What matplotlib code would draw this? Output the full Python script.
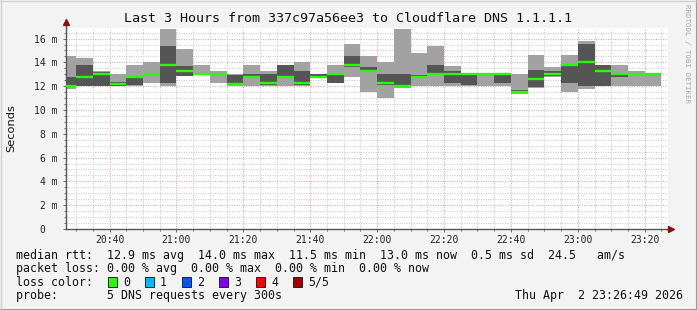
import numpy as np
import matplotlib
matplotlib.use("Agg")
import matplotlib.pyplot as plt
from matplotlib.lines import Line2D
from matplotlib.patches import Rectangle
from matplotlib.ticker import MultipleLocator, FuncFormatter

# 5-minute steps, minutes after 20:00 (start of each step)
step_start = [25 + 5 * k for k in range(36)]

# the 5 pings of each step, sorted (ms)
ping_min = [11.80, 12.00, 12.00, 12.00, 12.02, 12.30, 12.04, 12.86, 12.98, 12.30,
            12.00, 12.04, 12.02, 12.02, 12.02, 12.65, 12.28, 12.80, 11.55, 11.04,
            11.88, 12.04, 12.04, 12.04, 12.04, 12.04, 12.04, 11.34, 11.88, 12.80,
            11.54, 11.76, 12.02, 12.04, 12.04, 12.04]
ping_2nd = [11.95, 12.04, 12.05, 12.05, 12.06, 12.95, 12.30, 12.88, 13.00, 12.98,
            12.06, 12.78, 12.06, 12.78, 12.06, 12.70, 12.30, 13.58, 13.20, 12.06,
            11.92, 12.78, 12.98, 12.30, 12.06, 13.00, 12.30, 11.40, 11.90, 12.85,
            12.30, 12.04, 12.05, 12.80, 13.00, 13.00]
median = [12.00, 12.80, 13.05, 12.22, 12.80, 13.02, 13.80, 13.30, 13.02, 13.02,
          12.22, 12.80, 12.27, 12.80, 12.27, 12.80, 13.02, 13.78, 13.30, 12.30,
          12.00, 12.80, 13.02, 13.05, 13.02, 13.02, 13.02, 11.52, 12.60, 13.02,
          13.78, 14.06, 13.30, 13.05, 13.02, 13.02]
ping_4th = [12.75, 13.78, 13.20, 12.35, 12.82, 13.10, 15.38, 13.72, 13.05, 13.05,
            12.95, 13.05, 13.02, 13.78, 13.28, 13.00, 13.05, 14.56, 13.60, 13.02,
            13.02, 12.95, 13.78, 13.28, 13.06, 13.04, 13.04, 11.65, 13.36, 13.30,
            13.85, 15.55, 13.78, 13.10, 13.05, 13.04]
ping_max = [14.55, 14.34, 13.30, 13.00, 13.78, 14.06, 16.80, 15.13, 13.78, 13.30,
            13.00, 13.78, 13.30, 13.80, 14.06, 13.05, 13.78, 15.55, 14.55, 14.06,
            16.80, 14.76, 15.38, 13.70, 13.10, 13.06, 13.06, 13.02, 14.62, 13.58,
            14.62, 15.80, 13.80, 13.78, 13.28, 13.06]

tick_minutes = [40, 60, 80, 100, 120, 140, 160, 180, 200]

loss_labels = ["0", "1", "2", "3", "4", "5/5"]
loss_colors = ["#26ff00", "#00b8ff", "#0059ff", "#7e00ff", "#ff0000", "#a00000"]

W, H = 697, 310
fig = plt.figure(figsize=(W / 100, H / 100), dpi=100, facecolor="#f3f3f3")

x0, x1, ytop, ybot = 65.5, 667.5, 28, 229
ax = fig.add_axes([x0 / W, (H - ybot) / H, (x1 - x0) / W, (ybot - ytop) / H])
ax.set_facecolor("white")

t0 = 26 + 49 / 60
ax.set_xlim(t0, t0 + 180)
ax.set_ylim(0, 16.89)

mono = "DejaVu Sans Mono"

# grid
ax.xaxis.set_major_locator(plt.FixedLocator(tick_minutes))
ax.xaxis.set_minor_locator(MultipleLocator(5))
ax.yaxis.set_major_locator(MultipleLocator(2))
ax.yaxis.set_minor_locator(MultipleLocator(0.5))
ax.grid(which="minor", color="#cccccc", lw=0.75, ls=(0, (1, 1.3)), zorder=0)
ax.grid(which="major", color="#e8a8a8", lw=0.75, ls=(0, (1, 1.3)), zorder=0)
ax.set_axisbelow(True)

ax.xaxis.set_major_formatter(FuncFormatter(lambda v, p: "%02d:%02d" % (20 + int(v) // 60, int(v) % 60)))
ax.yaxis.set_major_formatter(FuncFormatter(lambda v, p: "%d m" % v if v > 0 else "0  "))
ax.tick_params(which="both", direction="out", color="#666666", labelsize=7,
               labelcolor="#222222")
ax.tick_params(which="major", length=2.5, width=0.7)
ax.tick_params(which="minor", length=1.5, width=0.7)
ax.tick_params(axis="y", pad=3)
ax.tick_params(axis="x", pad=2)
for lab in ax.get_xticklabels() + ax.get_yticklabels():
    lab.set_family(mono)

for s in ["top", "right"]:
    ax.spines[s].set_visible(False)
for s in ["left", "bottom"]:
    ax.spines[s].set_color("#555555")
    ax.spines[s].set_linewidth(1.0)

# smoke
starts = np.array(step_start, dtype=float)
lo = np.array(ping_min)
hi = np.array(ping_max)
ax.bar(starts, hi - lo, bottom=lo, width=5, align="edge", color="#a2a2a2",
       linewidth=0, zorder=2)
lo2 = np.array(ping_2nd)
hi2 = np.array(ping_4th)
ax.bar(starts, hi2 - lo2, bottom=lo2, width=5, align="edge", color="#555555",
       linewidth=0, zorder=3)
ax.hlines(median, starts, starts + 5, colors="#26ff00", lw=1.7, zorder=4)

# axis arrows
ax.plot([0, 0], [1.0, 1.03], transform=ax.transAxes, color="#555555", lw=1.0, clip_on=False)
ax.plot([0], [1.03], transform=ax.transAxes, marker="^", ms=4.5, color="#8b1010",
        clip_on=False, zorder=6)
ax.plot([1.0, 1.005], [0, 0], transform=ax.transAxes, color="#555555", lw=1.0, clip_on=False)
ax.plot([1.006], [0], transform=ax.transAxes, marker=">", ms=4.5, color="#8b1010",
        clip_on=False, zorder=6)

# texts
fig.text(348 / W, 1 - 18 / H, "Last 3 Hours from 337c97a56ee3 to Cloudflare DNS 1.1.1.1",
         family=mono, fontsize=9.6, ha="center", va="center", color="#111111")
fig.text(11 / W, 1 - 128 / H, "Seconds", rotation=90, fontsize=8.2,
         ha="center", va="center", color="#111111")
fig.text(687 / W, 1 - 4 / H, "RRDTOOL / TOBI OETIKER", rotation=270, family=mono,
         fontsize=5.4, ha="center", va="top", color="#a8a8a8")

lx = 16 / W
fs = 8.4
fig.text(lx, 1 - 255 / H,
         "median rtt:  12.9 ms avg  14.0 ms max  11.5 ms min  13.0 ms now  0.5 ms sd  24.5   am/s",
         family=mono, fontsize=fs, va="center", color="#111111")
fig.text(lx, 1 - 268.5 / H,
         "packet loss: 0.00 % avg  0.00 % max  0.00 % min  0.00 % now",
         family=mono, fontsize=fs, va="center", color="#111111")
fig.text(lx, 1 - 282 / H, "loss color:", family=mono, fontsize=fs, va="center",
         color="#111111")
for i, (lab, c) in enumerate(zip(loss_labels, loss_colors)):
    bx = 108 + 37 * i
    fig.add_artist(Rectangle((bx / W, 1 - 287 / H), 9 / W, 10 / H, facecolor=c,
                             edgecolor="#222222", lw=0.7, transform=fig.transFigure))
    fig.text((bx + 15) / W, 1 - 282 / H, lab, family=mono, fontsize=fs, va="center",
             color="#111111")
fig.text(lx, 1 - 296 / H, "probe:       5 DNS requests every 300s", family=mono,
         fontsize=fs, va="center", color="#111111")
fig.text(683 / W, 1 - 296 / H, "Thu Apr  2 23:26:49 2026", family=mono, fontsize=fs,
         va="center", ha="right", color="#111111")

# frame of the image
fig.add_artist(Line2D([0, 1], [0.5 / H, 0.5 / H], color="#9a9a9a", lw=1.5, transform=fig.transFigure))
fig.add_artist(Line2D([1 - 0.5 / W, 1 - 0.5 / W], [0, 1], color="#9a9a9a", lw=1.5, transform=fig.transFigure))
fig.add_artist(Line2D([0, 1], [1 - 0.5 / H, 1 - 0.5 / H], color="#d0d0d0", lw=1.0, transform=fig.transFigure))
fig.add_artist(Line2D([0.5 / W, 0.5 / W], [0, 1], color="#d0d0d0", lw=1.0, transform=fig.transFigure))

fig.savefig("out.png", dpi=100, facecolor=fig.get_facecolor())
